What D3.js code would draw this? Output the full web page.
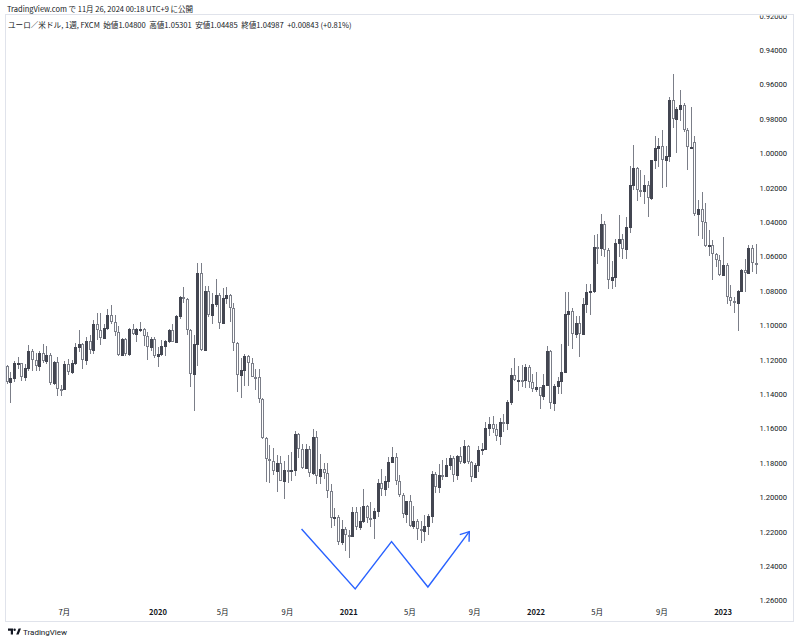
<!DOCTYPE html>
<html><head><meta charset="utf-8">
<script src="https://cdn.jsdelivr.net/npm/d3@7"></script>
<style>
html,body{margin:0;padding:0;background:#fff;}
svg{display:block;}
</style></head>
<body>
<svg id="c" width="800" height="643"></svg>
<script>
// Weekly EUR/USD (FXCM), week starting 2019-03-11 ... 2023-03-06
const startWeek = "2019-03-11";
const opens = [
1.1235,1.1326,1.1302,1.1218,1.1216,1.1300,1.1246,1.1150,1.1200,1.1234,1.1157,1.1204,1.1170,1.1333,1.1209,1.1369,1.1370,1.1226,1.1271,1.1219,1.1127,1.1108,1.1199,1.1090,1.1144,1.0990,1.1028,1.1074,1.1016,1.0940,1.0978,1.1040,1.1173,1.1080,1.1165,1.1018,1.1050,1.1019,1.1017,1.1060,1.1122,1.1077,
1.1177,1.1166,1.1120,1.1091,1.1025,1.1093,1.0943,1.0832,1.0847,1.1026,1.1283,1.1105,1.0694,1.1141,1.0801,1.0939,1.0876,1.0821,1.0982,1.0840,1.0820,1.0900,1.1101,1.1290,1.1256,1.1178,1.1220,1.1298,1.1300,1.1428,1.1655,1.1778,1.1786,1.1843,1.1796,1.1903,1.1838,1.1845,1.1838,1.1632,1.1715,1.1826,1.1717,1.1859,1.1646,1.1876,1.1834,1.1857,1.1962,1.2120,1.2113,1.2256,1.2185,
1.2216,1.2222,1.2081,1.2170,1.2136,1.2046,1.2118,1.2120,1.2075,1.1915,1.1952,1.1903,1.1795,1.1763,1.1902,1.1983,1.2098,1.2020,1.2165,1.2138,1.2180,1.2193,1.2167,1.2108,1.1864,1.1936,1.1866,1.1875,1.1808,1.1772,1.1870,1.1761,1.1793,1.1700,1.1795,1.1880,1.1813,1.1726,1.1720,1.1594,1.1571,1.1600,1.1644,1.1558,1.1567,1.1444,1.1285,1.1318,1.1315,1.1317,1.1239,1.1325,
1.1370,1.1358,1.1411,1.1345,1.1146,1.1450,1.1349,1.1323,1.1270,1.0930,1.0913,1.1050,1.0983,1.1046,1.0877,1.0806,1.0796,1.0545,1.0550,1.0410,1.0560,1.0733,1.0717,1.0520,1.0495,1.0553,1.0428,1.0185,1.0082,1.0212,1.0220,1.0182,1.0257,1.0036,0.9965,0.9953,1.0040,1.0015,0.9689,0.9801,0.9742,0.9719,0.9861,0.9964,0.9930,1.0353,1.0324,1.0398,1.0535,1.0530,1.0585,1.0620,
1.0705,1.0645,1.0832,1.0855,1.0870,1.0796,1.0678,1.0694,1.0547,1.0634];
const highs = [
1.1339,1.1448,1.1325,1.1255,1.1324,1.1324,1.1265,1.1265,1.1263,1.1265,1.1215,1.1225,1.1348,1.1348,1.1412,1.1412,1.1376,1.1286,1.1282,1.1227,1.1152,1.1250,1.1230,1.1164,1.1164,1.1085,1.1110,1.1075,1.1025,1.0990,1.1063,1.1179,1.1179,1.1175,1.1176,1.1055,1.1097,1.1040,1.1117,1.1200,1.1146,1.1189,
1.1240,1.1175,1.1174,1.1100,1.1097,1.1095,1.0963,1.0870,1.1053,1.1355,1.1496,1.1237,1.1147,1.1148,1.0952,1.0990,1.0890,1.1019,1.0985,1.0876,1.0977,1.1146,1.1384,1.1422,1.1349,1.1349,1.1300,1.1375,1.1452,1.1659,1.1909,1.1916,1.1871,1.1966,1.1903,1.2011,1.1917,1.1901,1.1873,1.1770,1.1831,1.1829,1.1881,1.1870,1.1920,1.1920,1.1894,1.2001,1.2177,1.2167,1.2273,1.2273,1.2310,
1.2349,1.2224,1.2190,1.2190,1.2150,1.2150,1.2169,1.2243,1.2113,1.1990,1.1989,1.1946,1.1800,1.1928,1.1994,1.2117,1.2150,1.2170,1.2181,1.2245,1.2266,1.2254,1.2218,1.2145,1.1975,1.1975,1.1895,1.1880,1.1838,1.1909,1.1900,1.1806,1.1806,1.1802,1.1909,1.1886,1.1849,1.1753,1.1725,1.1640,1.1624,1.1669,1.1692,1.1616,1.1609,1.1464,1.1320,1.1383,1.1355,1.1360,1.1361,1.1386,
1.1386,1.1482,1.1434,1.1345,1.1483,1.1495,1.1395,1.1395,1.1275,1.1121,1.1137,1.1070,1.1185,1.1055,1.0925,1.0936,1.0809,1.0641,1.0593,1.0599,1.0786,1.0787,1.0774,1.0601,1.0614,1.0615,1.0464,1.0209,1.0278,1.0254,1.0294,1.0368,1.0269,1.0090,1.0079,1.0198,1.0197,1.0051,0.9854,0.9999,0.9809,0.9876,1.0093,0.9976,1.0363,1.0481,1.0497,1.0545,1.0595,1.0736,1.0657,1.0713,
1.0713,1.0875,1.0887,1.0929,1.1033,1.0803,1.0805,1.0700,1.0691,1.0700];
const lows = [
1.1229,1.1270,1.1208,1.1183,1.1215,1.1226,1.1110,1.1135,1.1160,1.1150,1.1105,1.1116,1.1160,1.1203,1.1181,1.1348,1.1207,1.1193,1.1200,1.1101,1.1027,1.1100,1.1066,1.1052,1.0965,1.0926,1.0927,1.0990,1.0904,1.0879,1.0940,1.1000,1.1072,1.1072,1.1015,1.0989,1.1015,1.0981,1.1016,1.1040,1.1066,1.1066,
1.1125,1.1086,1.1086,1.1018,1.0992,1.0940,1.0827,1.0778,1.0840,1.1020,1.1055,1.0636,1.0635,1.0768,1.0770,1.0813,1.0727,1.0811,1.0783,1.0775,1.0815,1.0871,1.1097,1.1190,1.1168,1.1170,1.1186,1.1254,1.1255,1.1422,1.1648,1.1696,1.1711,1.1753,1.1760,1.1788,1.1752,1.1737,1.1612,1.1627,1.1688,1.1689,1.1702,1.1603,1.1612,1.1745,1.1800,1.1800,1.1923,1.2059,1.2100,1.2130,1.2170,
1.2190,1.2055,1.2054,1.2057,1.1952,1.2044,1.2023,1.2062,1.1893,1.1836,1.1873,1.1762,1.1704,1.1740,1.1870,1.1971,1.2017,1.1986,1.2051,1.2126,1.2134,1.2103,1.2095,1.1848,1.1849,1.1807,1.1782,1.1772,1.1752,1.1760,1.1752,1.1706,1.1664,1.1694,1.1789,1.1800,1.1702,1.1680,1.1563,1.1529,1.1524,1.1571,1.1535,1.1513,1.1433,1.1249,1.1186,1.1235,1.1228,1.1222,1.1230,1.1279,
1.1272,1.1356,1.1280,1.1121,1.1140,1.1340,1.1301,1.1106,1.0806,1.0806,1.0900,1.0944,1.0946,1.0837,1.0757,1.0761,1.0472,1.0470,1.0350,1.0390,1.0550,1.0627,1.0498,1.0359,1.0469,1.0366,1.0072,0.9952,1.0078,1.0097,1.0123,1.0158,1.0036,0.9899,0.9910,0.9864,0.9956,0.9670,0.9536,0.9727,0.9632,0.9706,0.9850,0.9730,0.9900,1.0271,1.0223,1.0290,1.0443,1.0505,1.0576,1.0590,
1.0483,1.0635,1.0766,1.0835,1.0794,1.0669,1.0613,1.0533,1.0533,1.0524];
const closes = [
1.1326,1.1302,1.1218,1.1216,1.1300,1.1246,1.1150,1.1200,1.1234,1.1157,1.1204,1.1170,1.1333,1.1209,1.1369,1.1370,1.1226,1.1271,1.1219,1.1127,1.1108,1.1199,1.1090,1.1144,1.0990,1.1028,1.1074,1.1016,1.0940,1.0978,1.1040,1.1173,1.1080,1.1165,1.1018,1.1050,1.1019,1.1017,1.1060,1.1122,1.1077,1.1177,
1.1166,1.1120,1.1091,1.1025,1.1093,1.0943,1.0832,1.0847,1.1026,1.1283,1.1105,1.0694,1.1141,1.0801,1.0939,1.0876,1.0821,1.0982,1.0840,1.0820,1.0900,1.1101,1.1290,1.1256,1.1178,1.1220,1.1298,1.1300,1.1428,1.1655,1.1778,1.1786,1.1843,1.1796,1.1903,1.1838,1.1845,1.1838,1.1632,1.1715,1.1826,1.1717,1.1859,1.1646,1.1876,1.1834,1.1857,1.1962,1.2120,1.2113,1.2256,1.2185,1.2216,
1.2222,1.2081,1.2170,1.2136,1.2046,1.2118,1.2120,1.2075,1.1915,1.1952,1.1903,1.1795,1.1763,1.1902,1.1983,1.2098,1.2020,1.2165,1.2138,1.2180,1.2193,1.2167,1.2108,1.1864,1.1936,1.1866,1.1875,1.1808,1.1772,1.1870,1.1761,1.1793,1.1700,1.1795,1.1880,1.1813,1.1726,1.1720,1.1594,1.1571,1.1600,1.1644,1.1558,1.1567,1.1444,1.1285,1.1318,1.1315,1.1317,1.1239,1.1325,1.1370,
1.1358,1.1411,1.1345,1.1146,1.1450,1.1349,1.1323,1.1270,1.0930,1.0913,1.1050,1.0983,1.1046,1.0877,1.0806,1.0796,1.0545,1.0550,1.0410,1.0560,1.0733,1.0717,1.0520,1.0495,1.0553,1.0428,1.0185,1.0082,1.0212,1.0220,1.0182,1.0257,1.0036,0.9965,0.9953,1.0040,1.0015,0.9689,0.9801,0.9742,0.9719,0.9861,0.9964,0.9959,1.0353,1.0324,1.0398,1.0535,1.0530,1.0585,1.0620,1.0705,
1.0645,1.0832,1.0855,1.0870,1.0796,1.0678,1.0694,1.0547,1.0634,1.0640];

// time-axis labels: [week index, label, isYear]
const tickIdx    = [16, 42, 60, 78, 95, 112, 130, 147, 164, 182, 199];
const tickLabels = ["7月","2020","5月","9月","2021","5月","9月","2022","5月","9月","2023"];
const tickIsYear = [false,true,false,false,true,false,false,true,false,false,true];

// price-axis ticks
const priceTicks = [0.92,0.94,0.96,0.98,1.00,1.02,1.04,1.06,1.08,1.10,1.12,1.14,1.16,1.18,1.20,1.22,1.24,1.26];

// drawn pattern annotation (week index, price)
const patternIdx   = [81.9, 96.8, 106.9, 117.0, 128.5];
const patternPrice = [1.2183, 1.2531, 1.2256, 1.2520, 1.2198];

const headerTop = "TradingView.com で 11月 26, 2024 00:18 UTC+9 に公開";
const headerSym = "ユーロ／米ドル, 1週, FXCM  始値1.04800  高値1.05301  安値1.04485  終値1.04987  +0.00843 (+0.81%)";

const svg = d3.select("#c");
const N = opens.length;
const x = d3.scaleLinear().domain([0, N - 1]).range([6.7, 755.5]);
const y = d3.scaleLinear().domain([0.92, 1.26]).range([16, 600.8]); // inverted scale

const font = "Roboto, 'Noto Sans CJK JP', sans-serif";
const cjk = "'Noto Sans CJK JP', Roboto, sans-serif";

// frame
svg.append("rect").attr("x", 5.5).attr("y", 14.5).attr("width", 788).attr("height", 607)
  .attr("fill", "none").attr("stroke", "#e0e3eb").attr("stroke-width", 1);

svg.append("text").attr("x", 7).attr("y", 11.5).attr("font-family", cjk).attr("font-size", 7.5)
  .attr("fill", "#131722").text(headerTop);
svg.append("text").attr("x", 8).attr("y", 28).attr("font-family", cjk).attr("font-size", 7.6)
  .attr("fill", "#131722").style("white-space","pre").text(headerSym);

// candles
const wickCol = "#7b7e88", downCol = "#434651", upStroke = "#7b7e88";
const g = svg.append("g").attr("shape-rendering", "crispEdges");
const idx = d3.range(N);
g.selectAll("line.w").data(idx).join("line").attr("class","w")
  .attr("x1", i => Math.round(x(i)) + 0.5).attr("x2", i => Math.round(x(i)) + 0.5)
  .attr("y1", i => y(lows[i])).attr("y2", i => y(highs[i]))
  .attr("stroke", wickCol).attr("stroke-width", 1);
g.selectAll("rect.b").data(idx).join("rect").attr("class","b")
  .each(function(i) {
    const cx = Math.round(x(i));
    const t = Math.round(y(Math.min(opens[i], closes[i])));
    const b = Math.round(y(Math.max(opens[i], closes[i])));
    const h = Math.max(1, b - t);
    const sel = d3.select(this);
    if (closes[i] >= opens[i]) {
      sel.attr("x", cx - 0.5).attr("y", t + 0.5).attr("width", 2).attr("height", Math.max(1, h - 1))
        .attr("fill", "#fff").attr("stroke", upStroke).attr("stroke-width", 1);
    } else {
      sel.attr("x", cx - 1).attr("y", t).attr("width", 3).attr("height", h + 1)
        .attr("fill", downCol);
    }
  });

// price axis (top label clipped by the frame, as in the original)
svg.append("clipPath").attr("id", "pclip").append("rect").attr("x", 757).attr("y", 15.5).attr("width", 36).attr("height", 596);
const pa = svg.append("g").attr("clip-path", "url(#pclip)");
pa.selectAll("text").data(priceTicks).join("text")
  .attr("x", 787).attr("y", d => y(d)).attr("dy", "0.35em").attr("text-anchor", "end")
  .attr("font-family", font).attr("font-size", 7.6).attr("fill", "#131722")
  .text(d => d.toFixed(5));

// time axis
svg.append("g").selectAll("text").data(tickIdx).join("text")
  .attr("x", d => x(d)).attr("y", 612).attr("dy", "0.35em").attr("text-anchor", "middle")
  .attr("font-family", cjk).attr("font-size", 7.6).attr("fill", "#131722")
  .attr("font-weight", (d, i) => tickIsYear[i] ? 700 : 400)
  .text((d, i) => tickLabels[i]);

// pattern annotation
const pts = patternIdx.map((d, i) => [x(d), y(patternPrice[i])]);
svg.append("path").attr("d", d3.line()(pts)).attr("fill", "none")
  .attr("stroke", "#2962ff").attr("stroke-width", 1.4).attr("stroke-linejoin", "miter");
const tip = pts[pts.length - 1], prev = pts[pts.length - 2];
const ang = Math.atan2(tip[1] - prev[1], tip[0] - prev[0]);
const L = 10, spread = 0.62;
const head = [[tip[0] - L * Math.cos(ang - spread), tip[1] - L * Math.sin(ang - spread)], tip,
              [tip[0] - L * Math.cos(ang + spread), tip[1] - L * Math.sin(ang + spread)]];
svg.append("path").attr("d", d3.line()(head)).attr("fill", "none")
  .attr("stroke", "#2962ff").attr("stroke-width", 1.4);

// footer logo
const lg = svg.append("g").attr("fill", "#131722");
lg.append("path").attr("d", "M8,628.5 h5 v6 h-2.2 v-3.8 h-2.8 z");
lg.append("circle").attr("cx", 14.6).attr("cy", 629.7).attr("r", 1.2);
lg.append("path").attr("d", "M16.2,634.5 L18.6,628.5 H21 L18.6,634.5 z");
svg.append("text").attr("x", 23).attr("y", 634.5).attr("font-family", font).attr("font-size", 8)
  .attr("fill", "#131722").text("TradingView");
</script>
</body></html>
